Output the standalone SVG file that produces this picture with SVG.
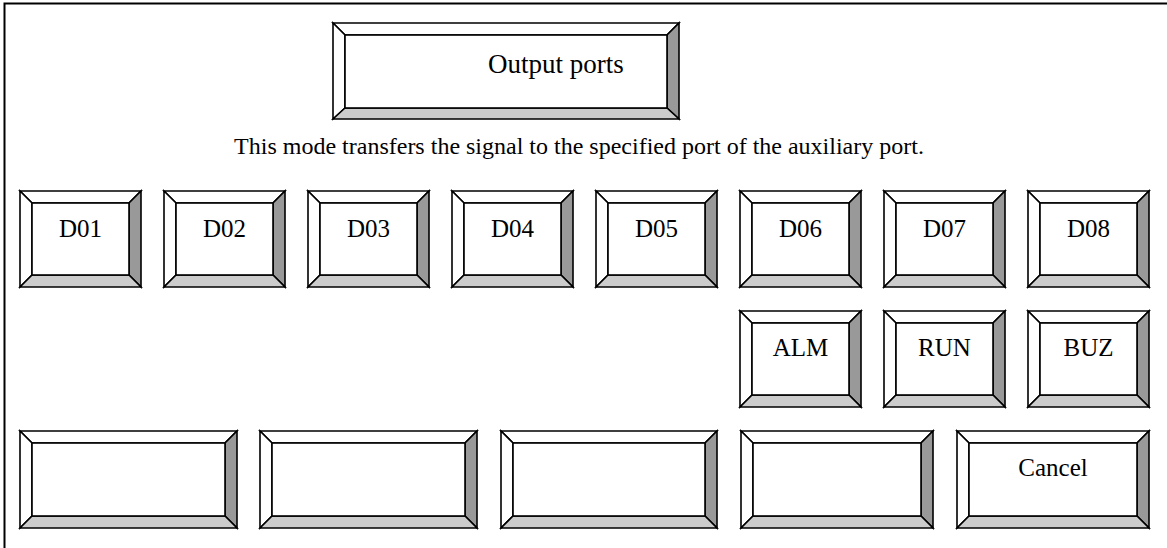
<svg xmlns="http://www.w3.org/2000/svg" width="1167" height="548" viewBox="0 0 1167 548">
<style>
.t{fill:#fff;stroke:#000;stroke-width:1.6;stroke-linejoin:miter}
.r{fill:#999;stroke:#000;stroke-width:1.6}
.b{fill:#ccc;stroke:#000;stroke-width:1.6}
.in{fill:#fff;stroke:#000;stroke-width:1.6}
.lbl{font-family:"Liberation Serif","Times New Roman",serif;font-size:25px;fill:#000;text-anchor:middle}
.title{font-family:"Liberation Serif","Times New Roman",serif;font-size:27px;fill:#000;text-anchor:middle}
.desc{font-family:"Liberation Serif","Times New Roman",serif;font-size:24px;fill:#000;text-anchor:middle}
</style>
<rect x="0" y="0" width="1167" height="548" fill="#fff"/>
<rect x="4.5" y="3.5" width="1170" height="560" fill="none" stroke="#000" stroke-width="2"/>
<g id="title">
<polygon class="t" points="333,23 679,23 667,35 345,35"/>
<polygon class="t" points="333,23 345,35 345,108 333,119"/>
<polygon class="r" points="679,23 679,119 667,108 667,35"/>
<polygon class="b" points="333,119 345,108 667,108 679,119"/>
<rect class="in" x="345" y="35" width="322" height="73"/>
<text class="title" x="556" y="73">Output ports</text>
</g>
<text id="desc" class="desc" x="579" y="154">This mode transfers the signal to the specified port of the auxiliary port.</text>
<g id="D01">
<polygon class="t" points="20,191 141,191 129,203 32,203"/>
<polygon class="t" points="20,191 32,203 32,275 20,287"/>
<polygon class="r" points="141,191 141,287 129,275 129,203"/>
<polygon class="b" points="20,287 32,275 129,275 141,287"/>
<rect class="in" x="32" y="203" width="97" height="72"/>
<text class="lbl" x="80.5" y="237">D01</text>
</g>
<g id="D02">
<polygon class="t" points="164,191 285,191 273,203 176,203"/>
<polygon class="t" points="164,191 176,203 176,275 164,287"/>
<polygon class="r" points="285,191 285,287 273,275 273,203"/>
<polygon class="b" points="164,287 176,275 273,275 285,287"/>
<rect class="in" x="176" y="203" width="97" height="72"/>
<text class="lbl" x="224.5" y="237">D02</text>
</g>
<g id="D03">
<polygon class="t" points="308,191 429,191 417,203 320,203"/>
<polygon class="t" points="308,191 320,203 320,275 308,287"/>
<polygon class="r" points="429,191 429,287 417,275 417,203"/>
<polygon class="b" points="308,287 320,275 417,275 429,287"/>
<rect class="in" x="320" y="203" width="97" height="72"/>
<text class="lbl" x="368.5" y="237">D03</text>
</g>
<g id="D04">
<polygon class="t" points="452,191 573,191 561,203 464,203"/>
<polygon class="t" points="452,191 464,203 464,275 452,287"/>
<polygon class="r" points="573,191 573,287 561,275 561,203"/>
<polygon class="b" points="452,287 464,275 561,275 573,287"/>
<rect class="in" x="464" y="203" width="97" height="72"/>
<text class="lbl" x="512.5" y="237">D04</text>
</g>
<g id="D05">
<polygon class="t" points="596,191 717,191 705,203 608,203"/>
<polygon class="t" points="596,191 608,203 608,275 596,287"/>
<polygon class="r" points="717,191 717,287 705,275 705,203"/>
<polygon class="b" points="596,287 608,275 705,275 717,287"/>
<rect class="in" x="608" y="203" width="97" height="72"/>
<text class="lbl" x="656.5" y="237">D05</text>
</g>
<g id="D06">
<polygon class="t" points="740,191 861,191 849,203 752,203"/>
<polygon class="t" points="740,191 752,203 752,275 740,287"/>
<polygon class="r" points="861,191 861,287 849,275 849,203"/>
<polygon class="b" points="740,287 752,275 849,275 861,287"/>
<rect class="in" x="752" y="203" width="97" height="72"/>
<text class="lbl" x="800.5" y="237">D06</text>
</g>
<g id="D07">
<polygon class="t" points="884,191 1005,191 993,203 896,203"/>
<polygon class="t" points="884,191 896,203 896,275 884,287"/>
<polygon class="r" points="1005,191 1005,287 993,275 993,203"/>
<polygon class="b" points="884,287 896,275 993,275 1005,287"/>
<rect class="in" x="896" y="203" width="97" height="72"/>
<text class="lbl" x="944.5" y="237">D07</text>
</g>
<g id="D08">
<polygon class="t" points="1028,191 1149,191 1137,203 1040,203"/>
<polygon class="t" points="1028,191 1040,203 1040,275 1028,287"/>
<polygon class="r" points="1149,191 1149,287 1137,275 1137,203"/>
<polygon class="b" points="1028,287 1040,275 1137,275 1149,287"/>
<rect class="in" x="1040" y="203" width="97" height="72"/>
<text class="lbl" x="1088.5" y="237">D08</text>
</g>
<g id="ALM">
<polygon class="t" points="740,311 861,311 849,323 752,323"/>
<polygon class="t" points="740,311 752,323 752,395 740,407"/>
<polygon class="r" points="861,311 861,407 849,395 849,323"/>
<polygon class="b" points="740,407 752,395 849,395 861,407"/>
<rect class="in" x="752" y="323" width="97" height="72"/>
<text class="lbl" x="800.5" y="356">ALM</text>
</g>
<g id="RUN">
<polygon class="t" points="884,311 1005,311 993,323 896,323"/>
<polygon class="t" points="884,311 896,323 896,395 884,407"/>
<polygon class="r" points="1005,311 1005,407 993,395 993,323"/>
<polygon class="b" points="884,407 896,395 993,395 1005,407"/>
<rect class="in" x="896" y="323" width="97" height="72"/>
<text class="lbl" x="944.5" y="356">RUN</text>
</g>
<g id="BUZ">
<polygon class="t" points="1028,311 1149,311 1137,323 1040,323"/>
<polygon class="t" points="1028,311 1040,323 1040,395 1028,407"/>
<polygon class="r" points="1149,311 1149,407 1137,395 1137,323"/>
<polygon class="b" points="1028,407 1040,395 1137,395 1149,407"/>
<rect class="in" x="1040" y="323" width="97" height="72"/>
<text class="lbl" x="1088.5" y="356">BUZ</text>
</g>
<g id="F1">
<polygon class="t" points="20,431 237,431 225,443 32,443"/>
<polygon class="t" points="20,431 32,443 32,516 20,528"/>
<polygon class="r" points="237,431 237,528 225,516 225,443"/>
<polygon class="b" points="20,528 32,516 225,516 237,528"/>
<rect class="in" x="32" y="443" width="193" height="73"/>
</g>
<g id="F2">
<polygon class="t" points="260,431 477,431 465,443 272,443"/>
<polygon class="t" points="260,431 272,443 272,516 260,528"/>
<polygon class="r" points="477,431 477,528 465,516 465,443"/>
<polygon class="b" points="260,528 272,516 465,516 477,528"/>
<rect class="in" x="272" y="443" width="193" height="73"/>
</g>
<g id="F3">
<polygon class="t" points="501,431 717,431 705,443 513,443"/>
<polygon class="t" points="501,431 513,443 513,516 501,528"/>
<polygon class="r" points="717,431 717,528 705,516 705,443"/>
<polygon class="b" points="501,528 513,516 705,516 717,528"/>
<rect class="in" x="513" y="443" width="192" height="73"/>
</g>
<g id="F4">
<polygon class="t" points="741,431 933,431 921,443 753,443"/>
<polygon class="t" points="741,431 753,443 753,516 741,528"/>
<polygon class="r" points="933,431 933,528 921,516 921,443"/>
<polygon class="b" points="741,528 753,516 921,516 933,528"/>
<rect class="in" x="753" y="443" width="168" height="73"/>
</g>
<g id="Cancel">
<polygon class="t" points="957,431 1149,431 1137,443 969,443"/>
<polygon class="t" points="957,431 969,443 969,516 957,528"/>
<polygon class="r" points="1149,431 1149,528 1137,516 1137,443"/>
<polygon class="b" points="957,528 969,516 1137,516 1149,528"/>
<rect class="in" x="969" y="443" width="168" height="73"/>
<text class="lbl" x="1053" y="476">Cancel</text>
</g>
<g id="connectors"/>
</svg>
